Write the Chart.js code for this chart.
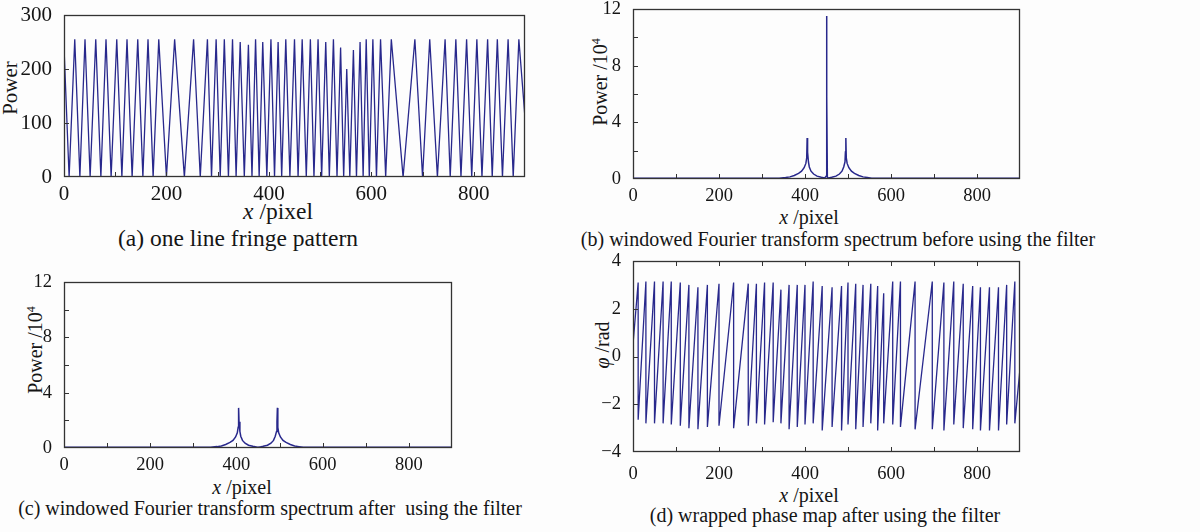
<!DOCTYPE html>
<html><head><meta charset="utf-8">
<script src="https://cdn.jsdelivr.net/npm/chart.js@4.4.0/dist/chart.umd.min.js"></script>
<style>
html,body{margin:0;padding:0}
body{background:#fdfdfd;width:1200px;height:532px;overflow:hidden;position:relative;font-family:"Liberation Serif",serif;color:#151515}
canvas{position:absolute}
.t{position:absolute;font-size:20px;white-space:pre;line-height:1;transform:translate(-50%,-50%)}
.big{font-size:23.5px}
.yt{transform:translate(-50%,-50%) rotate(-90deg)}
sup{font-size:12px;vertical-align:7px;line-height:0}
</style></head><body>
<div class="t yt" style="left:10px;top:88px;font-size:21px">Power</div>
<div class="t big" style="left:278px;top:212px"><i>x</i> /pixel</div>
<div class="t big" style="left:238px;top:239px">(a) one line fringe pattern</div>

<div class="t yt" style="left:600px;top:82px">Power /10<sup>4</sup></div>
<div class="t" style="left:809px;top:217px"><i>x</i> /pixel</div>
<div class="t" style="left:838px;top:239px">(b) windowed Fourier transform spectrum before using the filter</div>

<div class="t yt" style="left:35px;top:350px">Power /10<sup>4</sup></div>
<div class="t" style="left:242px;top:487px"><i>x</i> /pixel</div>
<div class="t" style="left:270px;top:508px">(c) windowed Fourier transform spectrum after  using the filter</div>

<div class="t yt" style="left:602px;top:345px"><i>φ</i> /rad</div>
<div class="t" style="left:809px;top:495px"><i>x</i> /pixel</div>
<div class="t" style="left:825px;top:515px">(d) wrapped phase map after using the filter</div>

<script>
// ---------- data ----------
// (a) fringe pattern: extrema positions (pixel) and power values
const fringeX = [0,10,21,31,41,51,62,72,82,92,103,113,123,133,144,154,164,174,185,200,216,235,253,266,280,288,297,305,313,321,329,336,344,352,360,367,374,381,388,396,404,411,418,425,433,441,450,457,465,473,481,488,496,503,511,518,526,533,540,546,552,558,565,571,578,584,590,596,603,610,618,628,639,662,685,700,714,729,744,754,765,775,786,796,806,816,827,836,846,856,867,877,888,900];
const fringeY = [240,0,255,0,255,0,255,0,255,0,255,0,255,0,255,0,255,0,255,0,255,0,255,0,255,0,255,0,255,0,255,0,250,0,245,0,255,0,250,0,255,0,250,0,255,0,255,0,255,0,255,0,255,0,250,0,255,0,240,0,200,0,235,0,250,0,255,0,255,0,255,0,255,0,255,0,255,0,255,0,255,0,255,0,255,0,255,0,255,0,255,0,255,110];

// (b),(c) spectra (units of 10^4)
const specX      = [0,340,355,365,375,385,392,398,402,404,405,406,408,410,414,420,428,438,446,449,450,451,452,455,462,472,480,486,490,493,494,495,496,498,502,508,515,525,535,545,555,900];
const specBefore = [0.05,0.05,0.1,0.15,0.25,0.4,0.55,0.8,1.1,1.5,2.9,1.9,1.2,0.85,0.55,0.35,0.2,0.12,0.08,0.2,11.5,5.8,0.1,0.08,0.12,0.2,0.35,0.55,0.85,1.2,1.9,2.9,1.5,1.1,0.8,0.55,0.4,0.25,0.15,0.1,0.05,0.05];
const specAfter  = [0.05,0.05,0.1,0.15,0.25,0.4,0.55,0.8,1.1,1.5,2.9,1.9,1.2,0.85,0.55,0.35,0.2,0.12,0.08,0.06,0.05,0.05,0.06,0.08,0.12,0.2,0.35,0.55,0.85,1.2,1.9,2.9,1.5,1.1,0.8,0.55,0.4,0.25,0.15,0.1,0.05,0.05];

// (d) wrapped phase: start, wrap positions with value just before / after each wrap, end
const phaseStart = [0, 0.5];
const wrapX = [12,30,50,70,89,110,130,151,173,200,234,268,287,306,326,344,363,382,400,419,440,463,485,500,518,535,553,569,583,604,622,656,696,723,746,768,790,808,829,850,869,888];
const wrapTop = [3.1,3.14,3.14,3.14,3.14,3.1,3.0,2.9,3.0,3.05,3.1,3.05,3.05,3.1,3.1,2.8,3.0,3.0,3.0,3.14,2.95,2.9,2.95,3.1,3.05,3.0,3.05,2.95,2.65,3.14,3.14,3.14,3.14,3.1,3.14,3.05,2.95,2.9,2.9,2.9,3.0,3.14];
const wrapBot = [-2.65,-2.8,-2.8,-2.8,-2.85,-2.9,-3.0,-3.05,-2.95,-2.9,-3.0,-2.9,-2.8,-2.85,-2.75,-2.8,-3.05,-2.95,-2.85,-2.8,-3.1,-2.95,-3.1,-2.85,-3.05,-2.95,-2.8,-3.1,-2.8,-2.85,-2.95,-3.05,-3.05,-3.1,-2.85,-3.0,-3.05,-3.1,-3.1,-3.1,-2.85,-2.8];
const phaseEnd = [900, -0.5];

// tick labels
const xTicks   = [0,200,400,600,800];
const xMinor   = [100,200,300,400,500,600,700,800];
const yTicksA  = [0,100,200,300];
const yMinorA  = [100,200];
const yTicksBC = [0,4,8,12];
const yMinorBC = [2,4,6,8,10];
const yTicksD  = [-4,-2,0,2,4];
const yMinorD  = [-2,0,2];

// ---------- drawing ----------
const LINE = '#28288c';
const TXT = '#151515';

const framePlugin = {
  id:'frame',
  afterDraw(chart, args, o){
    const {ctx, chartArea:a} = chart;
    const x = chart.scales.x, y = chart.scales.y;
    ctx.save();
    ctx.strokeStyle = '#333'; ctx.lineWidth = 1;
    ctx.beginPath();
    (o.xm||[]).forEach(v=>{
      const p = Math.round(x.getPixelForValue(v))+0.5;
      ctx.moveTo(p, a.bottom); ctx.lineTo(p, a.bottom-5);
      if (o.top){ ctx.moveTo(p, a.top); ctx.lineTo(p, a.top+5); }
    });
    (o.ym||[]).forEach(v=>{
      const p = Math.round(y.getPixelForValue(v))+0.5;
      ctx.moveTo(a.left, p); ctx.lineTo(a.left+5, p);
    });
    ctx.stroke();
    ctx.lineWidth = 1.3;
    ctx.strokeRect(a.left+0.5, a.top+0.5, a.right-a.left-1, a.bottom-a.top-1);
    ctx.restore();
  }
};

function panel(area, cfg){
  const PL=70, PT=22, PR=22, PB=48;
  const FONT = {family:'"Liberation Serif", serif', size:cfg.fs};
  const cv = document.createElement('canvas');
  const w = area.r-area.l+PL+PR, h = area.b-area.t+PT+PB;
  cv.width = w; cv.height = h;
  cv.style.left = (area.l-PL)+'px'; cv.style.top = (area.t-PT)+'px';
  cv.style.width = w+'px'; cv.style.height = h+'px';
  document.body.appendChild(cv);
  new Chart(cv, {
    type:'line',
    data:{datasets:[{data:cfg.points, borderColor:LINE, borderWidth:cfg.lw, pointRadius:0, tension:0, fill:false}]},
    options:{
      responsive:false, animation:false, devicePixelRatio:1,
      layout:{padding:{left:0, top:PT, right:PR, bottom:0}},
      plugins:{legend:{display:false}, tooltip:{enabled:false}, frame:{xm:xMinor, ym:cfg.ym, top:cfg.top}},
      scales:{
        x:{type:'linear', min:0, max:900, grid:{display:false}, border:{display:false},
           afterBuildTicks:s=>{ s.ticks = xTicks.map(v=>({value:v})); },
           afterFit:s=>{ s.height = PB; },
           ticks:{font:FONT, color:TXT, padding:cfg.xpad, maxRotation:0, autoSkip:false}},
        y:{type:'linear', min:cfg.yt[0], max:cfg.yt[cfg.yt.length-1], grid:{display:false}, border:{display:false},
           afterBuildTicks:s=>{ s.ticks = cfg.yt.map(v=>({value:v})); },
           afterFit:s=>{ s.width = PL; },
           ticks:{font:FONT, color:TXT, padding:4, autoSkip:false,
                  callback:v=> v<0 ? '\u2212'+Math.abs(v) : String(v)}}
      }
    },
    plugins:[framePlugin]
  });
}

const ptsA = fringeX.map((x,i)=>({x, y:fringeY[i]}));
const ptsB = specX.map((x,i)=>({x, y:specBefore[i]}));
const ptsC = specX.map((x,i)=>({x, y:specAfter[i]}));
const ptsD = [{x:phaseStart[0], y:phaseStart[1]}];
wrapX.forEach((x,i)=>{ ptsD.push({x, y:wrapTop[i]}); ptsD.push({x, y:wrapBot[i]}); });
ptsD.push({x:phaseEnd[0], y:phaseEnd[1]});

panel({l:64, t:15, r:525, b:177}, {points:ptsA, lw:1.3, yt:yTicksA, ym:yMinorA, xpad:-3, fs:21});
panel({l:633, t:9, r:1020, b:179}, {points:ptsB, lw:1.5, yt:yTicksBC, ym:yMinorBC, xpad:-2, fs:18.5});
panel({l:64, t:282, r:452, b:448}, {points:ptsC, lw:1.5, yt:yTicksBC, ym:yMinorBC, xpad:-2, fs:18.5});
panel({l:633, t:261, r:1020, b:452}, {points:ptsD, lw:1.3, yt:yTicksD, ym:yMinorD, top:true, xpad:3, fs:18.5});
</script>
</body></html>
